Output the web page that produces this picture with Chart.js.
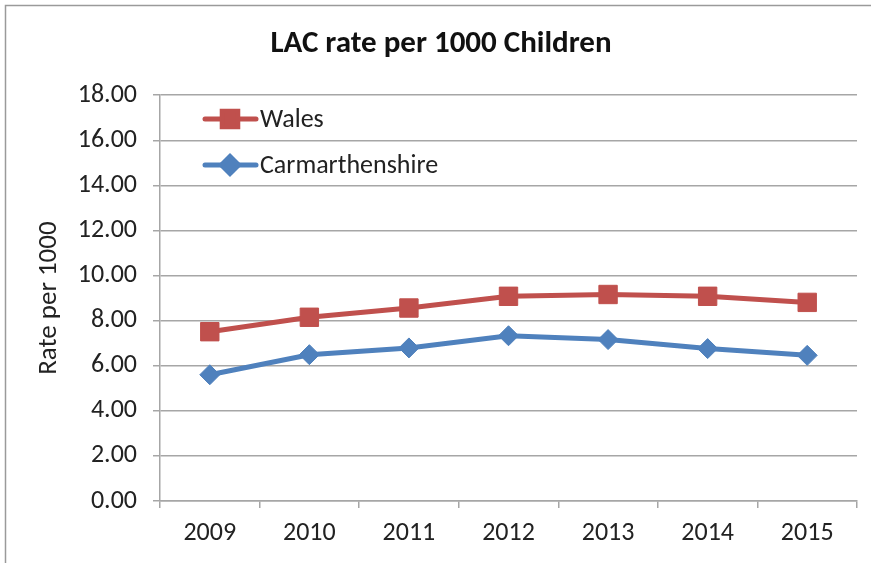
<!DOCTYPE html>
<html>
<head>
<meta charset="utf-8">
<script src="https://cdn.jsdelivr.net/npm/chart.js@4/dist/chart.umd.min.js"></script>
<style>
  html, body { margin: 0; padding: 0; background: #fff; }
  #wrap { width: 871px; height: 563px; }
</style>
</head>
<body>
<div id="wrap"><canvas id="lacChart" width="871" height="563"></canvas></div>
<script>
// chart data
const years = ['2009', '2010', '2011', '2012', '2013', '2014', '2015'];
const walesRate = [7.51, 8.15, 8.56, 9.08, 9.16, 9.08, 8.81];
const carmsRate = [5.60, 6.49, 6.79, 7.33, 7.16, 6.76, 6.46];
const yTicks = [0, 2, 4, 6, 8, 10, 12, 14, 16, 18];

const FONT = 'Carlito, Lato, "Liberation Sans", sans-serif';
const GRID = '#a6a6a6';

// outer frame like the spreadsheet chart border
const framePlugin = {
  id: 'frame',
  beforeDraw(chart) {
    const ctx = chart.ctx;
    ctx.save();
    ctx.fillStyle = '#fff';
    ctx.fillRect(0, 0, chart.width, chart.height);
    ctx.strokeStyle = '#9a9a9a';
    ctx.lineWidth = 1.5;
    ctx.strokeRect(5.5, 5.5, 900, 620);
    ctx.restore();
  }
};

// legend sits inside the plot area, top left
const insideLegend = {
  id: 'insideLegend',
  afterDatasetsDraw(chart) {
    const ctx = chart.ctx;
    const rows = [119, 165];
    ctx.save();
    chart.data.datasets.forEach((ds, i) => {
      const y = rows[i];
      ctx.strokeStyle = ds.borderColor;
      ctx.lineWidth = 5;
      ctx.lineCap = 'round';
      ctx.beginPath();
      ctx.moveTo(205, y);
      ctx.lineTo(256, y);
      ctx.stroke();
      ctx.fillStyle = ds.backgroundColor;
      Chart.helpers.drawPoint(ctx, {
        pointStyle: ds.pointStyle,
        radius: i === 0 ? 11 : 8.5,
        borderWidth: 1
      }, 230, y);
      ctx.fillStyle = '#222';
      ctx.font = '26px ' + FONT;
      ctx.textBaseline = 'middle';
      ctx.textAlign = 'left';
      ctx.fillText(ds.label, 260, y + 1);
    });
    ctx.restore();
  }
};

new Chart(document.getElementById('lacChart').getContext('2d'), {
  type: 'line',
  data: {
    labels: years,
    datasets: [
      {
        label: 'Wales',
        data: walesRate,
        borderColor: '#c0504d',
        backgroundColor: '#c0504d',
        borderWidth: 5,
        pointStyle: 'rect',
        pointRadius: 13,
        pointBorderWidth: 1,
        tension: 0
      },
      {
        label: 'Carmarthenshire',
        data: carmsRate,
        borderColor: '#4f81bd',
        backgroundColor: '#4f81bd',
        borderWidth: 5,
        pointStyle: 'rectRot',
        pointRadius: 10,
        pointBorderWidth: 1,
        tension: 0
      }
    ]
  },
  options: {
    responsive: false,
    animation: false,
    devicePixelRatio: 1,
    layout: { padding: { left: 22, right: 11, top: 0, bottom: 0 } },
    scales: {
      x: {
        offset: true,
        grid: {
          offset: true,
          drawOnChartArea: false,
          tickLength: 7,
          color: GRID,
          lineWidth: 1.5
        },
        border: { color: GRID, width: 1.5 },
        ticks: {
          color: '#222',
          padding: 10,
          font: { family: FONT, size: 26 }
        },
        afterFit(scale) { scale.height = 62; }
      },
      y: {
        min: 0,
        max: 18,
        afterBuildTicks(scale) {
          scale.ticks = yTicks.map(v => ({ value: v }));
        },
        grid: {
          color: GRID,
          lineWidth: 1.5,
          tickLength: 7
        },
        border: { color: GRID, width: 1.5 },
        ticks: {
          color: '#222',
          padding: 16,
          font: { family: FONT, size: 26 },
          callback: v => Number(v).toFixed(2)
        },
        title: {
          display: true,
          text: 'Rate per 1000',
          color: '#222',
          padding: { top: 11, bottom: 0 },
          font: { family: FONT, size: 27 }
        },
        afterFit(scale) { scale.width = 138; }
      }
    },
    plugins: {
      legend: { display: false },
      tooltip: { enabled: false },
      title: {
        display: true,
        text: 'LAC rate per 1000 Children',
        color: '#111',
        padding: { top: 26, bottom: 32 },
        font: { family: FONT, size: 31, weight: 'bold' }
      }
    }
  },
  plugins: [framePlugin, insideLegend]
});
</script>
</body>
</html>
